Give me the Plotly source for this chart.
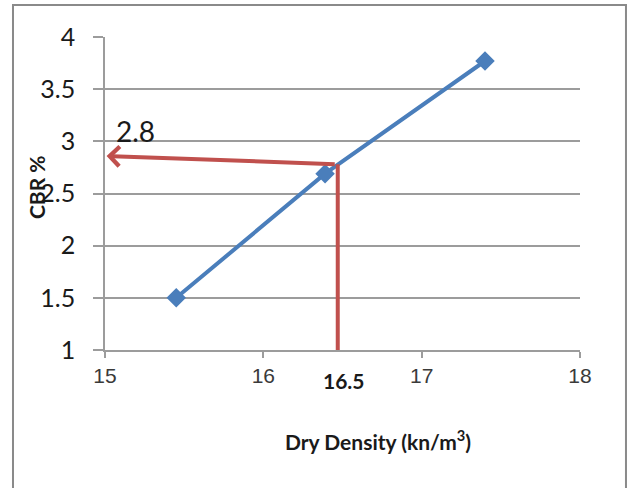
import plotly.graph_objects as go

# Data
dry_density = [15.45, 16.39, 17.40]
cbr = [1.5, 2.69, 3.77]

# Red guide: vertical from x-axis up to curve, then arrow to the y-axis
guide_x = [16.47, 16.47]
guide_y = [1.0, 2.78]
arrow_tip = (15.01, 2.86)
read_value_label = "2.8"
read_value_pos = (15.19, 3.10)
density_label = "16.5"
density_label_x = 16.51

x_ticks = [15, 16, 17, 18]
y_ticks = [1, 1.5, 2, 2.5, 3, 3.5, 4]

BLUE = "#4a7ebb"
RED = "#c0504d"
GRID = "#9c9c9c"

fig = go.Figure()
fig.add_trace(go.Scatter(
    x=dry_density, y=cbr, mode="lines+markers",
    line=dict(color=BLUE, width=4),
    marker=dict(symbol="diamond", size=15, color=BLUE),
    showlegend=False, hoverinfo="skip",
))
fig.add_trace(go.Scatter(
    x=guide_x, y=guide_y, mode="lines",
    line=dict(color=RED, width=4),
    showlegend=False, hoverinfo="skip",
))

# horizontal arrow to y-axis
fig.add_annotation(
    x=arrow_tip[0], y=arrow_tip[1], ax=guide_x[1], ay=guide_y[1],
    xref="x", yref="y", axref="x", ayref="y",
    showarrow=True, arrowhead=4, arrowsize=0.95, arrowwidth=4,
    arrowcolor=RED, text=" ",
)
fig.add_annotation(
    x=read_value_pos[0], y=read_value_pos[1], xref="x", yref="y",
    xanchor="center", yanchor="middle",
    text=read_value_label, showarrow=False,
    font=dict(family="Lato", size=28, color="#1a1a1a"),
)
fig.add_annotation(
    x=density_label_x, y=-0.099, xref="x", yref="paper",
    xanchor="center", yanchor="middle",
    text=density_label, showarrow=False,
    font=dict(family="Lato", size=21, color="#1a1a1a", weight="bold"),
)
fig.add_annotation(
    x=0.575, y=-0.2875, xref="paper", yref="paper",
    xanchor="center", yanchor="middle",
    text="Dry Density (kn/m<sup>3</sup>)", showarrow=False,
    font=dict(family="Lato", size=21, color="#1a1a1a", weight="bold"),
)
fig.add_annotation(
    x=-0.1442, y=0.519, xref="paper", yref="paper",
    xanchor="center", yanchor="middle",
    text="CBR %", showarrow=False, textangle=-90,
    font=dict(family="Lato", size=21, color="#1a1a1a", weight="bold"),
)

# outer border
fig.add_shape(
    type="rect", xref="paper", yref="paper",
    x0=-0.1937, x1=1.0968, y0=-0.47, y1=1.102,
    line=dict(color="#8a8a8a", width=2), fillcolor="rgba(0,0,0,0)", layer="below",
)

fig.update_xaxes(
    range=[15, 18], tickvals=x_ticks, ticktext=[str(v) for v in x_ticks],
    showgrid=False, zeroline=False,
    showline=True, linecolor=GRID, linewidth=1.5,
    ticks="outside", ticklen=6, tickcolor=GRID, tickwidth=1.5,
    ticklabelstandoff=0,
    tickfont=dict(family="Liberation Sans", size=21, color="#3a3a3a"),
)
fig.update_yaxes(
    range=[1, 4], tickvals=y_ticks, ticktext=[f"{v:g}" for v in y_ticks],
    showgrid=True, gridcolor=GRID, gridwidth=1.5, zeroline=False,
    showline=True, linecolor=GRID, linewidth=1.5,
    ticks="outside", ticklen=10, tickcolor=GRID, tickwidth=1.5,
    ticklabelstandoff=13,
    tickfont=dict(family="Lato", size=25, color="#1a1a1a"),
)

fig.update_layout(
    width=630, height=488,
    margin=dict(l=105, r=50, t=37, b=138, autoexpand=False),
    paper_bgcolor="white", plot_bgcolor="white",
    showlegend=False,
)

fig.write_html(
    "out.html",
    config={"displayModeBar": False},
    post_script="document.body.style.margin='0';",
)
